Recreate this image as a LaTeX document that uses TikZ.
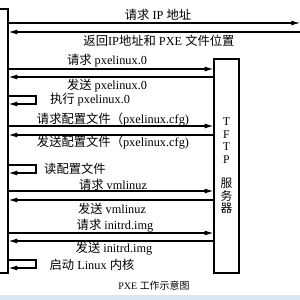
\documentclass[tikz,border=0pt]{standalone}
\usepackage{fontspec}
\setmainfont{Liberation Serif}
\newfontfamily\cjk{Noto Sans CJK SC}
\usetikzlibrary{arrows.meta,calc,positioning}
\definecolor{bandblue}{RGB}{214,230,243}
\newcommand{\zh}[1]{{\cjk #1}}

\tikzset{
  msg/.style={line width=0.9pt,-{Latex[length=2.6mm,width=1.5mm]}},
  hostbox/.style={draw,line width=1.1pt,inner sep=0pt},
  lbl/.style={font=\fontsize{10.5}{12}\selectfont,inner sep=0pt},
}

\begin{document}
\begin{tikzpicture}[x=0.03cm,y=-0.03cm]
          \useasboundingbox (0,0) rectangle (300,300);
          \clip (0,0) rectangle (300,300);
          % screenshot band at the bottom
          \fill[bandblue] (0,295) rectangle (300,300);
          % the two hosts
          \node[hostbox,minimum width=0.84cm,minimum height=7.92cm] (client) at (-6,141) {};
          \node[hostbox,minimum width=0.75cm,minimum height=6.42cm,align=center,
                font=\fontsize{10}{10.6}\selectfont] (tftp) at (226.5,166)
                {T\\F\\T\\P\\[10.6pt]\zh{服}\\\zh{务}\\\zh{器}};
          \coordinate (dhcp) at (300,0);
          % DHCP exchange
          \draw[msg] (client.east |- 0,23) -- (dhcp |- 0,23);
          \node[lbl] (reqip) at (158,15) {\zh{请求} IP \zh{地址}};
          \draw[msg] (dhcp |- 0,32) -- (client.east |- 0,32);
          \node[lbl] (retip) at (159,41) {\zh{返回}IP\zh{地址和} PXE \zh{文件位置}};
          % pxelinux.0
          \draw[msg] (client.east |- 0,69) -- (tftp.west |- 0,69);
          \node[lbl] (reqpxe) at (107,61) {\zh{请求} pxelinux.0};
          \draw[msg] (tftp.west |- 0,77) -- (client.east |- 0,77);
          \node[lbl] (sndpxe) at (107,86) {\zh{发送} pxelinux.0};
          \draw[msg] (client.east |- 0,96) -- (36,96) -- (36,104) -- (client.east |- 0,104);
          \node[lbl] (runpxe) at (90,100) {\zh{执行} pxelinux.0};
          % config file
          \draw[msg] (client.east |- 0,126) -- (tftp.west |- 0,126);
          \node[lbl] (reqcfg) at (113,120) {\zh{请求配置文件（}pxelinux.cfg)};
          \draw[msg] (tftp.west |- 0,135) -- (client.east |- 0,135);
          \node[lbl] (sndcfg) at (113,143) {\zh{发送配置文件（}pxelinux.cfg)};
          \draw[msg] (client.east |- 0,165) -- (36,165) -- (36,173) -- (client.east |- 0,173);
          \node[lbl] (readcfg) at (75,169) {\zh{读配置文件}};
          % kernel
          \draw[msg] (client.east |- 0,191) -- (tftp.west |- 0,191);
          \node[lbl] (reqvm) at (113,185) {\zh{请求} vmlinuz};
          \draw[msg] (tftp.west |- 0,200) -- (client.east |- 0,200);
          \node[lbl] (sndvm) at (112,209) {\zh{发送} vmlinuz};
          % initrd
          \draw[msg] (client.east |- 0,233) -- (tftp.west |- 0,233);
          \node[lbl] (reqrd) at (115,226) {\zh{请求} initrd.img};
          \draw[msg] (tftp.west |- 0,241) -- (client.east |- 0,241);
          \node[lbl] (sndrd) at (114,249) {\zh{发送} initrd.img};
          \draw[msg] (client.east |- 0,260) -- (36,260) -- (36,268) -- (client.east |- 0,268);
          \node[lbl] (boot) at (92,265) {\zh{启动} Linux \zh{内核}};
          % caption
          \node[lbl,font=\fontsize{8.5}{10}\selectfont] (caption) at (154,286) {PXE \zh{工作示意图}};
\end{tikzpicture}
\end{document}
